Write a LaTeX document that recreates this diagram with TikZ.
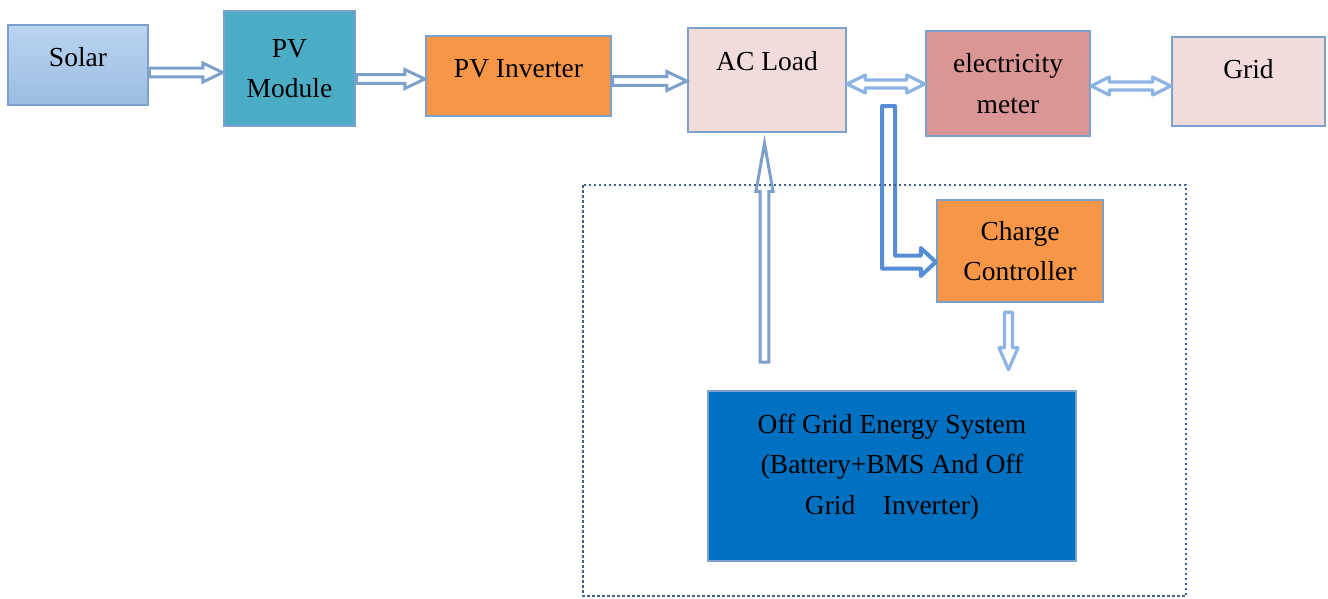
\documentclass[tikz,border=0pt]{standalone}
\usepackage{fontspec}
\setmainfont{Liberation Serif}
\usetikzlibrary{calc}

\definecolor{edgeblue}{HTML}{7DA0CA}
\definecolor{solartop}{HTML}{BAD4F0}
\definecolor{solarbot}{HTML}{9BBCE2}
\definecolor{pvteal}{HTML}{4BACC6}
\definecolor{invorange}{HTML}{F79646}
\definecolor{loadpink}{HTML}{F2DCDB}
\definecolor{meterrose}{HTML}{D99694}
\definecolor{offblue}{HTML}{0070C0}
\definecolor{lightarrow}{HTML}{8DB4E2}
\definecolor{feedblue}{HTML}{558ED5}
\definecolor{framegray}{HTML}{41618F}

% hollow block arrow: style, from, to, head length, head half width, shaft half width
\newcommand{\blockarrow}[6]{%
	\path ($(#3)!#4!(#2)$) coordinate (ba-h);
	\draw[#1] ($(#2)!#6!90:(#3)$) -- ($(ba-h)!#6!90:(#3)$) -- ($(ba-h)!#5!90:(#3)$) -- (#3)
		-- ($(ba-h)!#5!270:(#3)$) -- ($(ba-h)!#6!270:(#3)$) -- ($(#2)!#6!270:(#3)$) -- cycle;}

% same with a head on both ends
\newcommand{\twinarrow}[6]{%
	\path ($(#3)!#4!(#2)$) coordinate (ba-h) ($(#2)!#4!(#3)$) coordinate (ba-t);
	\draw[#1] (#2) -- ($(ba-t)!#5!90:(#3)$) -- ($(ba-t)!#6!90:(#3)$) -- ($(ba-h)!#6!90:(#3)$)
		-- ($(ba-h)!#5!90:(#3)$) -- (#3) -- ($(ba-h)!#5!270:(#3)$) -- ($(ba-h)!#6!270:(#3)$)
		-- ($(ba-t)!#6!270:(#3)$) -- ($(ba-t)!#5!270:(#3)$) -- cycle;}

\begin{document}
\begin{tikzpicture}[
		x=1pt, y=-1pt,
		font=\fontsize{27.5}{40.5}\selectfont,
		% Boxes of the chain
		block/.style={draw=edgeblue, line width=2.5pt, inner sep=0pt, align=center},
		oneline/.style={text height=19pt, text depth=16pt},
		% Arrow outlines
		hollow/.style={draw=edgeblue, line width=3pt, fill=white, line join=miter},
		twin/.style={draw=lightarrow, line width=3.2pt, fill=white, line join=round},
		feed/.style={draw=feedblue, line width=4pt, fill=white, line join=round},
		frame/.style={draw=framegray, line width=2pt, dash pattern=on 2.5pt off 2.5pt}
		]
		\useasboundingbox (0,0) rectangle (1328,598);
		
		% =========================================================================
		% TOP ROW
		% =========================================================================
		\node[block, oneline, top color=solartop, bottom color=solarbot, minimum width=140pt, minimum height=80pt] (sol) at (78,65) {Solar};
		\node[block, fill=pvteal, minimum width=131pt, minimum height=115pt] (pvm) at (289.5,68.5) {PV\\Module};
		\node[block, oneline, fill=invorange, minimum width=185pt, minimum height=80pt] (pvi) at (518.5,76) {PV Inverter};
		\node[block, fill=loadpink, text height=19pt, text depth=39pt, minimum width=158pt, minimum height=104pt] (ac) at (767,80) {AC Load};
		\node[block, fill=meterrose, minimum width=164pt, minimum height=105pt] (em) at (1008,83.5) {electricity\\meter};
		\node[block, fill=loadpink, text height=19pt, text depth=26pt, minimum width=153pt, minimum height=89pt] (grid) at (1248.5,81.5) {Grid};
		
		% =========================================================================
		% OFF GRID PART
		% =========================================================================
		\node[block, fill=invorange, minimum width=166pt, minimum height=102pt] (cc) at (1020,251) {Charge\\Controller};
		\node[block, fill=offblue, text height=100pt, text depth=24pt, minimum width=368pt, minimum height=170pt] (ogs) at (892,476)
		{Off Grid Energy System\\(Battery+BMS And Off\\Grid \ \ \ Inverter)};
		
		% =========================================================================
		% ARROWS
		% =========================================================================
		\blockarrow{hollow}{sol.east |- 0,72.5}{pvm.west |- 0,72.5}{20pt}{9.5pt}{4.3pt}
		\blockarrow{hollow}{pvm.east |- 0,79}{pvi.west |- 0,79}{20pt}{9.5pt}{4.3pt}
		\blockarrow{hollow}{pvi.east |- 0,81}{ac.west |- 0,81}{20pt}{9.5pt}{4.3pt}
		\twinarrow{twin}{ac.east |- 0,84}{em.west |- 0,84}{18pt}{9pt}{4pt}
		\twinarrow{twin}{em.east |- 0,86}{grid.west |- 0,86}{18pt}{9pt}{4pt}
		
		\coordinate (upfoot) at (764.5,362);
		\coordinate (uptip) at ($(ac.south)+(-2.5,10)$);
		\blockarrow{hollow}{upfoot}{uptip}{48pt}{8.5pt}{4.3pt}
		
		\coordinate (dntop) at ($(cc.south)+(-11.5,9)$);
		\coordinate (dntip) at ($(ogs.north -| dntop)+(0,-20)$);
		\blockarrow{twin}{dntop}{dntip}{22pt}{9.5pt}{4pt}
		
		% elbow from the load line into the charge controller
		\coordinate (tap) at (888.5,106);
		\coordinate (ccin) at (cc.west |- 0,262);
		\draw[feed] ($(tap)+(-6.5,0)$) -- ($(tap |- ccin)+(-6.5,6.5)$) -- ($(ccin)+(-15,6.5)$) -- ($(ccin)+(-15,14)$)
			-- (ccin) -- ($(ccin)+(-15,-14)$) -- ($(ccin)+(-15,-6.5)$) -- ($(tap |- ccin)+(6.5,-6.5)$) -- ($(tap)+(6.5,0)$) -- cycle;
		
		% dotted frame of the off grid system
		\draw[frame] (583,185) rectangle (1186,596);
		
	\end{tikzpicture}
\end{document}
